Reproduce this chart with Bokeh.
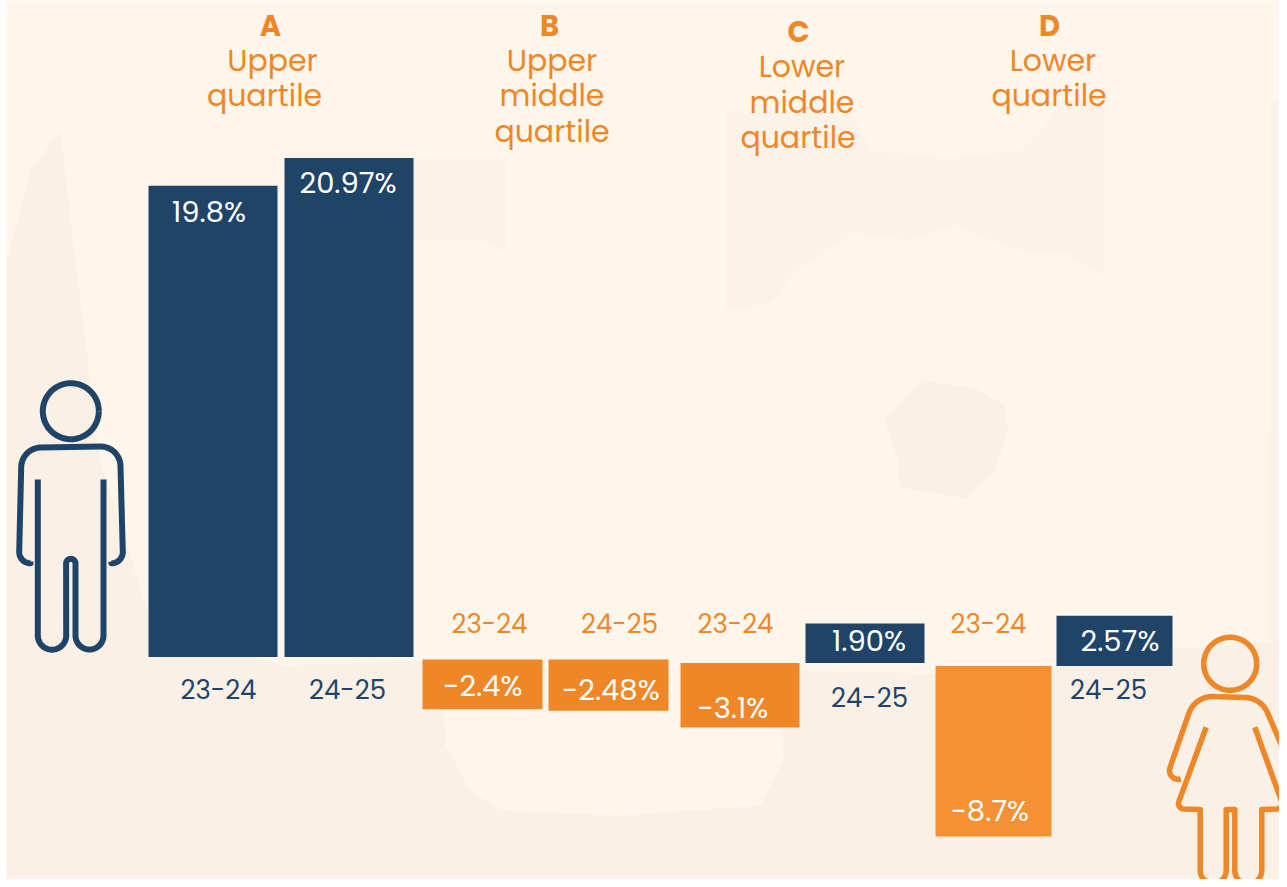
import numpy as np
from bokeh.plotting import figure
from bokeh.models import Range1d
from bokeh.core.properties import value
from bokeh.embed import file_html
from bokeh.resources import INLINE

# ---------- data ----------
groups = ["A", "B", "C", "D"]
group_names = ["Upper\nquartile", "Upper\nmiddle\nquartile", "Lower\nmiddle\nquartile", "Lower\nquartile"]
periods = ["23-24", "24-25"]
values_a = [19.8, 20.97]
values_b = [-2.4, -2.48]
values_c = [-3.1, 1.90]
values_d = [-8.7, 2.57]
labels_a = ["19.8%", "20.97%"]
labels_b = ["-2.4%", "-2.48%"]
labels_c = ["-3.1%", "1.90%"]
labels_d = ["-8.7%", "2.57%"]

# ---------- layout (reference pixels) ----------
W, H = 1279, 879
NAVY, ORANGE, ORANGE_D = "#1F4468", "#EF8729", "#F69035"
BASE, DARK, LIGHT = "#FEF6EB", "#FBF2E8", "#FEF6EB"
LOW = "#FAF0E6"
FONT = value("Poppins, Inter, sans-serif")
baseline = {"A": 656.5, "B": 659.0, "C": 662.5, "D": 665.5}
scale = {"A": 23.8, "B": 20.7, "C": 20.8, "D": 19.6}
bar_x = {"A": [(148, 277), (284, 413)], "B": [(422, 542), (548, 668)],
         "C": [(680, 799), (805, 924)], "D": [(935, 1051), (1056, 1172)]}
val_xy = {"A": [(208.5, 211), (347.5, 182)], "B": [(482.5, 685), (610.5, 689)],
          "C": [(732.5, 707), (868.5, 640)], "D": [(989.5, 810), (1119.5, 640)]}
per_xy = {"A": [(218, 689), (347, 689)], "B": [(489, 623), (619, 623)],
          "C": [(735, 623), (869, 697)], "D": [(988, 623), (1108, 689)]}
head_xy = {"A": (270, 25), "B": (549, 25), "C": (798, 31), "D": (1049, 25)}
name_xy = {"A": [(272, 60), (264, 95)], "B": [(551.5, 60), (551.5, 95), (551.5, 131)],
           "C": [(801.5, 66), (801.5, 102), (797.5, 137)], "D": [(1052.5, 60), (1048.5, 95)]}

p = figure(width=W, height=H, output_backend="svg", toolbar_location=None,
           x_range=Range1d(0, W), y_range=Range1d(H, 0), min_border=0,
           background_fill_color=BASE, border_fill_color=BASE,
           outline_line_color=None, x_axis_location=None, y_axis_location=None)
p.grid.visible = False

# faint background shapes
def blob(xs, ys, color):
    p.patch(xs, ys, fill_color=color, line_color=None)
# lower band and left flank
blob([6, 6, 30, 60, 75, 100, 150, 280, 440, 1000, 1150, 1287, 1287, 6],
     [887, 260, 170, 130, 260, 460, 620, 665, 660, 675, 650, 640, 887, 887], LOW)
# upper shapes
blob([413, 505, 505, 480, 413], [158, 158, 252, 240, 240], DARK)
blob([725, 850, 870, 950, 1020, 1045, 1060, 1104, 1104, 1067, 1016, 954, 909, 852, 796, 770, 725],
     [110, 110, 150, 158, 150, 125, 100, 100, 277, 253, 250, 225, 240, 233, 270, 303, 310], DARK)
blob([1270, 1287, 1287, 1268], [100, 100, 640, 640], DARK)
# centre hole
blob([884, 920, 975, 1005, 1008, 995, 965, 900, 897, 884],
     [420, 380, 388, 405, 430, 470, 498, 487, 460, 420], LOW)
# light blob under the orange bars
blob([441, 445, 470, 500, 620, 760, 783, 780, 760, 640, 441],
     [660, 745, 790, 810, 815, 805, 760, 700, 665, 655, 660], LIGHT)
# page edge
p.quad(left=[0], right=[6], top=[0], bottom=[H], fill_color="white", line_color=None)

# bars, one percentage scale per quartile group
vals = {"A": values_a, "B": values_b, "C": values_c, "D": values_d}
labs = {"A": labels_a, "B": labels_b, "C": labels_c, "D": labels_d}
for g in groups:
    rn = "pct" + g
    p.extra_y_ranges[rn] = Range1d((baseline[g] - H) / scale[g], baseline[g] / scale[g])
    for i, v in enumerate(vals[g]):
        l, r = bar_x[g][i]
        col = NAVY if v > 0 else (ORANGE_D if g == "D" else ORANGE)
        p.quad(left=[l], right=[r], bottom=[0], top=[v], fill_color=col, line_color=None, y_range_name=rn)
        vx, vy = val_xy[g][i]
        p.text([vx], [vy], text=[labs[g][i]], text_color="white", text_font=FONT, text_font_size="29px",
               text_align="center", text_baseline="middle")
        px, py = per_xy[g][i]
        p.text([px], [py], text=[periods[i]], text_color=NAVY if v > 0 else ORANGE, text_font=FONT,
               text_font_size="26px", text_align="center", text_baseline="middle")

# headings
for g, nm in zip(groups, group_names):
    hx, hy = head_xy[g]
    p.text([hx], [hy], text=[g], text_color=ORANGE, text_font=FONT, text_font_size="29px",
           text_font_style="bold", text_align="center", text_baseline="middle")
    for (nx, ny), line in zip(name_xy[g], nm.split("\n")):
        p.text([nx], [ny], text=[line], text_color=ORANGE, text_font=FONT, text_font_size="30px",
               text_align="center", text_baseline="middle")

# pictograms
def arc(cx, cy, r, a0, a1, n=40):
    t = np.radians(np.linspace(a0, a1, n))
    return list(cx + r * np.cos(t)), list(cy + r * np.sin(t))

def path(*segs, color, w):
    xs, ys = [], []
    for s in segs:
        xs += list(s[0]); ys += list(s[1])
    p.line(xs, ys, line_color=color, line_width=w, line_join="round", line_cap="butt")

# man
path(arc(70.3, 410.7, 28, 0, 360, 80), color=NAVY, w=6)
path(([30], [561]), arc(30, 551.5, 11.3, 90, 180, 12), arc(40.7, 467, 20, 180, 270),
     arc(100, 466, 20, 270, 360), arc(111, 551.5, 11.3, 0, 90, 12), ([110.7], [561]), color=NAVY, w=6)
path(([37.3], [479]), arc(51.5, 635, 14.2, 180, 0), arc(70.3, 563, 4.7, 180, 360, 16),
     arc(89, 635, 14, 180, 0), ([103], [479]), color=NAVY, w=6)

# woman
path(arc(1229.7, 663.3, 26.5, 0, 360, 80), color=ORANGE, w=5.5)
path(([1180.3], [778.3]), arc(1178, 770, 9, 90, 200, 12), arc(1212, 721, 25, 200, 270),
     arc(1244, 722, 25, 270, 340), arc(1282, 770, 9, -20, 90, 12), ([1279.3], [778.3]), color=ORANGE, w=5.5)
path(([1205.7], [726.7]), arc(1183.5, 803, 5.5, 200, 90, 12), ([1199.7, 1199.7], [809, 870]),
     arc(1212.7, 870, 13, 180, 0), ([1225.7, 1234.3], [809, 809]), arc(1247.8, 870, 13.5, 180, 0),
     ([1261.3, 1261.3], [870, 809]), arc(1276, 803, 5.5, 90, -20, 12), ([1254.3], [726.7]), color=ORANGE, w=5.5)

open("out.html", "w").write(file_html(p, INLINE))
